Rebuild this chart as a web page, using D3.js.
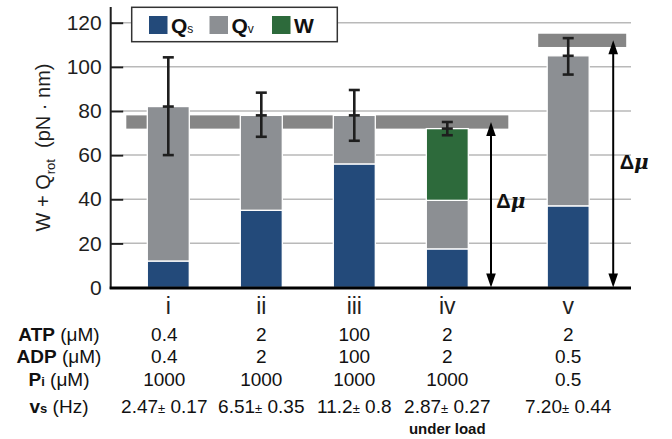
<!DOCTYPE html>
<html><head><meta charset="utf-8">
<script src="https://cdn.jsdelivr.net/npm/d3@7"></script>
<style>
html,body{margin:0;padding:0;background:#fff;}
svg{display:block;font-family:"Liberation Sans",Arial,Helvetica,sans-serif;}
</style></head>
<body>
<svg id="chart" width="672" height="439"></svg>
<script>
// ---- data ----
const categories = ["i", "ii", "iii", "iv", "v"];
const qs = [12, 35, 56, 17.5, 37];          // Q_s segment
const qv = [70, 43, 22, 22, 68];            // Q_v segment
const w  = [0, 0, 0, 32.5, 0];              // W segment
const errMean = [82, 78, 78, 72, 105];
const errLow  = [60, 68.3, 66.5, 69, 96.5];
const errHigh = [104.3, 88.3, 89.5, 75, 113];
const deltaMu = [75, 112];                  // Δμ band centres
const deltaMuHalf = 3;
const yTicks = [0, 20, 40, 60, 80, 100, 120];
const atp = ["0.4", "2", "100", "2", "2"];
const adp = ["0.4", "2", "100", "2", "0.5"];
const pi  = ["1000", "1000", "1000", "1000", "0.5"];
const vs  = [["2.47", "0.17"], ["6.51", "0.35"], ["11.2", "0.8"], ["2.87", "0.27"], ["7.20", "0.44"]];
const legendItems = [["Q", "s"], ["Q", "v"], ["W", ""]];

// ---- style ----
const colQs = "#234a7a", colQv = "#8c8f93", colW = "#2d6a3b";
const colBand = "#868686", colGrid = "#b9b9b9", ink = "#1e1e1e";

const svg = d3.select("#chart");
const slot = i => (i < 4 ? i : 4.3);
const x = d3.scaleLinear().domain([0, 4.3]).range([168.3, 568.2]);
const y = d3.scaleLinear().domain([0, 120]).range([287.5, 22.7]);
const barW = 42;
const axisX = 110.7, plotRight = 631;

// gridlines
svg.append("g").selectAll("line").data(yTicks.filter(d => d > 0)).join("line")
  .attr("x1", axisX + 12).attr("x2", plotRight)
  .attr("y1", d => y(d)).attr("y2", d => y(d))
  .attr("stroke", colGrid).attr("stroke-width", 1.5);

// Δμ bands (behind bars)
const bandSpans = [[x(0) - 42, x(3) + 61], [x(4.3) - 30, x(4.3) + 58]];
svg.append("g").selectAll("rect").data(deltaMu).join("rect")
  .attr("x", (d, i) => bandSpans[i][0])
  .attr("width", (d, i) => bandSpans[i][1] - bandSpans[i][0])
  .attr("y", d => y(d + deltaMuHalf))
  .attr("height", d => y(d - deltaMuHalf) - y(d + deltaMuHalf))
  .attr("fill", colBand);

// stacked bars
const stacks = categories.map((c, i) => {
  const segs = [];
  let base = 0;
  [[qs[i], colQs], [qv[i], colQv], [w[i], colW]].forEach(([v, col]) => {
    if (v > 0) { segs.push({ i, y0: base, y1: base + v, col }); base += v; }
  });
  return segs;
}).flat();
svg.append("g").selectAll("rect").data(stacks).join("rect")
  .attr("x", d => x(slot(d.i)) - barW / 2)
  .attr("width", barW)
  .attr("y", d => y(d.y1))
  .attr("height", d => y(d.y0) - y(d.y1))
  .attr("fill", d => d.col)
  .attr("stroke", "#fff").attr("stroke-width", 1.3);

// error bars
const eb = svg.append("g").attr("stroke", ink).attr("stroke-width", 2.6);
categories.forEach((c, i) => {
  const cx = x(slot(i));
  eb.append("line").attr("x1", cx).attr("x2", cx).attr("y1", y(errLow[i])).attr("y2", y(errHigh[i]));
  [errLow[i], errMean[i], errHigh[i]].forEach(v => {
    eb.append("line").attr("x1", cx - 5.5).attr("x2", cx + 5.5).attr("y1", y(v)).attr("y2", y(v));
  });
});

// y axis
const yAxis = d3.axisLeft(y).tickValues(yTicks).tickSizeInner(-12.5).tickSizeOuter(0).tickPadding(9);
const gy = svg.append("g").attr("transform", `translate(${axisX},0)`).call(yAxis);
gy.select(".domain").remove();
gy.selectAll(".tick line").attr("stroke", ink).attr("stroke-width", 2);
gy.selectAll(".tick text").attr("font-size", 21).attr("fill", ink)
  .attr("font-family", "'Liberation Sans',Arial,sans-serif");
svg.append("line").attr("x1", axisX).attr("x2", axisX).attr("y1", 7).attr("y2", 289)
  .attr("stroke", ink).attr("stroke-width", 2);
svg.append("line").attr("x1", axisX - 1).attr("x2", plotRight).attr("y1", 288).attr("y2", 288)
  .attr("stroke", "#000").attr("stroke-width", 3);

// y label
const yl = svg.append("text").attr("transform", "translate(50,147.5) rotate(-90)")
  .attr("text-anchor", "middle").attr("font-size", 20).attr("fill", ink);
yl.append("tspan").text("W + Q");
yl.append("tspan").text("rot").attr("font-size", 13).attr("dy", 5);
yl.append("tspan").text("\u00a0\u00a0(pN \u00b7 nm)").attr("dy", -5);

// Δμ arrows
const arrowX = [x(3) + 43.7, x(4.3) + 45];
const ar = svg.append("g");
deltaMu.forEach((v, i) => {
  const ax = arrowX[i], top = y(v), bot = y(0);
  ar.append("line").attr("x1", ax).attr("x2", ax).attr("y1", top + 8).attr("y2", bot - 8)
    .attr("stroke", "#000").attr("stroke-width", 2);
  ar.append("path").attr("d", `M${ax},${top} L${ax - 4.8},${top + 14} L${ax + 4.8},${top + 14} Z`).attr("fill", "#000");
  ar.append("path").attr("d", `M${ax},${bot} L${ax - 4.8},${bot - 14} L${ax + 4.8},${bot - 14} Z`).attr("fill", "#000");
});
const dmuPos = [[x(3) + 49, 208], [x(4.3) + 51.5, 169]];
dmuPos.forEach(([tx, ty]) => {
  const t = svg.append("text").attr("x", tx).attr("y", ty).attr("font-size", 20)
    .attr("font-weight", "bold").attr("fill", "#111");
  t.append("tspan").text("\u0394");
  t.append("tspan").text("\u03bc").attr("font-style", "italic").attr("font-family", "'DejaVu Serif',serif").attr("font-weight", "bold");
});

// legend
const lg = svg.append("g");
lg.append("rect").attr("x", 131.7).attr("y", 7.3).attr("width", 205.6).attr("height", 34.4)
  .attr("fill", "#fff").attr("stroke", "#333").attr("stroke-width", 1.5);
const legendCols = [colQs, colQv, colW];
const legendX = [149, 209.5, 272];
legendItems.forEach(([a, b], i) => {
  lg.append("rect").attr("x", legendX[i]).attr("y", 16).attr("width", 18.5).attr("height", 18)
    .attr("fill", legendCols[i]);
  const t = lg.append("text").attr("x", legendX[i] + 22).attr("y", 33)
    .attr("font-size", 21).attr("font-weight", "bold").attr("fill", "#111");
  t.append("tspan").text(a);
  if (b) t.append("tspan").text(b).attr("font-size", 12).attr("font-weight", "normal").attr("dy", 0);
});

// category labels
svg.append("g").selectAll("text").data(categories).join("text")
  .attr("x", (d, i) => x(slot(i))).attr("y", 314)
  .attr("text-anchor", "middle").attr("font-size", 23).attr("fill", "#222")
  .text(d => d);

// table rows
const rows = [
  { label: ["ATP", " (\u03bcM)"], vals: atp, yb: 341 },
  { label: ["ADP", " (\u03bcM)"], vals: adp, yb: 363 },
  { label: ["P", "i", " (\u03bcM)"], vals: pi, yb: 386 }
];
const tb = svg.append("g").attr("fill", "#111");
rows.forEach(r => {
  const t = tb.append("text").attr("x", 59).attr("y", r.yb).attr("text-anchor", "middle").attr("font-size", 19);
  if (r.label.length === 2) {
    t.append("tspan").text(r.label[0]).attr("font-weight", "bold");
    t.append("tspan").text(r.label[1]);
  } else {
    t.append("tspan").text(r.label[0]).attr("font-weight", "bold");
    t.append("tspan").text(r.label[1]).attr("font-weight", "bold").attr("font-size", 13);
    t.append("tspan").text(r.label[2]);
  }
  r.vals.forEach((v, i) => {
    tb.append("text").attr("x", x(slot(i)) - (i === 0 ? 4 : 0)).attr("y", r.yb)
      .attr("text-anchor", "middle").attr("font-size", 19).text(v);
  });
});
// vs row
const vl = tb.append("text").attr("x", 59).attr("y", 413).attr("text-anchor", "middle").attr("font-size", 19);
vl.append("tspan").text("v").attr("font-weight", "bold");
vl.append("tspan").text("s").attr("font-weight", "bold").attr("font-size", 13);
vl.append("tspan").text(" (Hz)");
vs.forEach(([m, e], i) => {
  const t = tb.append("text").attr("x", x(slot(i)) - (i === 0 ? 4 : 0)).attr("y", 413)
    .attr("text-anchor", "middle").attr("font-size", 19);
  t.append("tspan").text(m);
  t.append("tspan").text("\u00b1").attr("font-size", 13);
  t.append("tspan").text(" " + e);
});
tb.append("text").attr("x", x(3)).attr("y", 434).attr("text-anchor", "middle")
  .attr("font-size", 15).attr("font-weight", "bold").text("under load");
</script>
</body></html>
